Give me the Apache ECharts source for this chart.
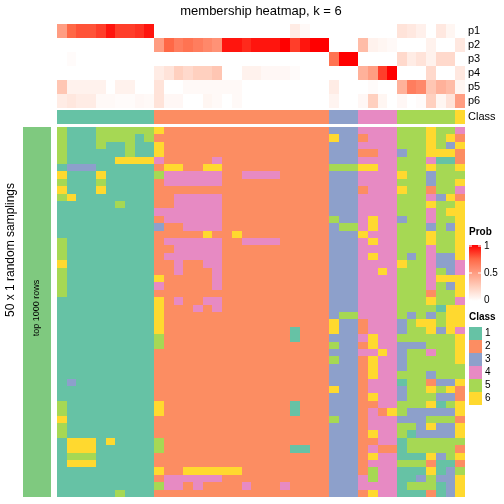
<!DOCTYPE html>
<html><head><meta charset="utf-8">
<script src="https://cdn.jsdelivr.net/npm/echarts@6/dist/echarts.min.js"></script>
<style>html,body{margin:0;padding:0;background:#fff}#c{width:504px;height:504px}</style>
</head><body><div id="c"></div>
<script>
// ---- data ----
const probLabels = ['p1','p2','p3','p4','p5','p6'];
const p1 = [0.5,0.75,0.8,0.8,0.85,0.95,0.85,0.85,0.88,0.95, 0,0,0,0,0,0,0,0,0,0, 0,0,0,0,0.1,0.03,0,0, 0,0,0, 0,0,0,0, 0.15,0.12,0.08,0,0.12,0.05, 0];
const p2 = [0,0,0,0,0,0,0,0,0,0, 0.5,0.75,0.65,0.7,0.65,0.6,0.55,0.95,0.95,0.9,0.95, 0.95,0.95,1,0.85,0.95,1,1, 0,0,0, 0.35,0.07,0.05,0.03, 0,0,0,0.07,0,0, 0.12];
const p3 = [0,0.02,0,0,0,0,0,0,0,0, 0,0,0,0,0,0,0,0,0,0,0, 0,0,0,0,0,0,0, 0.7,1,1, 0,0,0,0, 0.2,0.1,0.15,0.07,0.2,0.2, 0];
const p4 = [0,0,0,0,0,0,0,0,0,0, 0.1,0.15,0.25,0.2,0.25,0.25,0.3,0,0,0.07,0.07, 0.04,0.04,0.04,0.02,0,0,0, 0,0,0, 0.4,0.5,0.85,1, 0,0,0,0.2,0,0, 0.12];
const p5 = [0.3,0.07,0.07,0.07,0.07,0,0.07,0.07,0,0, 0.15,0,0,0.03,0.03,0.03,0.03,0.03,0.03,0,0, 0,0,0,0,0,0,0, 0.1,0,0, 0,0.02,0,0, 0.4,0.65,0.6,0.3,0.4,0.35, 0.05];
const p6 = [0.1,0.13,0.1,0.1,0.03,0.03,0.02,0.02,0.04,0.03, 0.15,0.04,0.04,0,0,0.05,0.03,0,0.03,0,0, 0,0,0,0,0,0,0, 0.06,0,0, 0.04,0.25,0.05,0, 0.04,0,0.02,0.25,0.05,0.15, 0.5];
const classRow = [1,1,1,1,1,1,1,1,1,1, 2,2,2,2,2,2,2,2,2,2,2,2,2,2,2,2,2,2, 3,3,3, 4,4,4,4, 5,5,5,5,5,5, 6];
const samplingRows = [
"5111555555 622222222222222222 333 4444 555655 4",
"5111555515 222222222222222222 633 2444 555656 2",
"5111511511 622222222222222222 333 4444 555653 6",
"5111111511 622222222222222222 333 2244 355666 2",
"5111116666 422222422222222222 333 4444 555411 2",
"1333111111 266226622222222222 555 6644 555655 6",
"6111611111 544444422444422222 333 4444 655355 5",
"5111511111 244444422222222222 333 4444 555355 6",
"6111611111 222222222222222222 333 2444 655255 4",
"5611111111 224444422222222222 333 4444 555436 2",
"1111115111 224444422222222222 333 4444 555655 6",
"1111111111 444444422222222222 333 4444 555456 6",
"1111111111 244444422222222222 533 4644 355455 6",
"1111111111 322444422222222222 355 4644 555353 6",
"1111111111 222226226222222222 333 6444 555655 6",
"5111111111 244444422444422222 333 4644 555655 6",
"5111111111 224444422222222222 333 4444 555455 6",
"5111111111 244444422222222222 333 4644 535433 6",
"6111111111 224224422222222222 333 4444 655433 4",
"5111111111 224222422222222222 333 4464 555453 4",
"5111111111 622222422222222222 333 4444 555466 6",
"5111111111 422222422222222222 333 4444 555453 6",
"5111111111 222222222222222222 333 4444 555255 6",
"1111111111 624224422222222222 333 4444 555655 4",
"1111111111 622242422222222222 333 4444 555516 6",
"1111111111 622222222222222222 355 4444 535356 6",
"1111111111 622222222222222222 633 2444 356656 6",
"1111111111 622222222222221222 633 2444 355636 4",
"1111111111 522222222222221222 333 4644 555555 6",
"1111111111 522222222222222222 533 2644 333555 6",
"1111111111 222222222222222222 333 4464 355455 6",
"1111111111 222222222222222222 533 2644 355555 6",
"1111111111 222222222222222222 333 2644 355555 5",
"1111111111 222222222222222222 333 2644 555355 5",
"1311111111 222222222222222222 333 2444 155233 6",
"1111111111 222222222222222222 633 2444 355656 2",
"1111111111 222222222222222222 333 2644 355533 2",
"5111111111 622222222222221222 333 2244 555615 6",
"5111111111 622222222222221222 333 2426 533333 6",
"6111111111 222222222222222222 533 2444 333555 2",
"5111111111 222222222222222222 333 2444 553633 6",
"5111111111 222222222222222222 333 2644 513333 6",
"1666161111 522222222222222222 333 2244 155555 5",
"1666111111 522222222222221122 333 2422 155555 2",
"1555111111 222222222222222222 333 2644 111635 6",
"1666111111 222222222222222222 333 2444 555211 2",
"1111111111 622666666222222222 333 2544 111613 5",
"1111111111 244444422222222222 333 4544 113533 6",
"1111111111 544242222422242222 333 4444 155513 6",
"1111115111 222222222222222222 333 2644 111213 6"
];
const classLabels = ['1','2','3','4','5','6'];
const classColors = ['#66C2A5','#FC8D62','#8DA0CB','#E78AC3','#A6D854','#FFD92F'];
const stripColor = '#7FC97F';
const probTicks = ['1','0.5','0'];

// ---- build ----
const nCol = classRow.length;
const cols = Array.from({length:nCol},(_,i)=>i);
const probs = [p1,p2,p3,p4,p5,p6];
const topData = [];
probs.forEach((arr,r)=>arr.forEach((v,c)=>topData.push([c,r,v])));
const classData = classRow.map((v,c)=>[c,0,v]);
const mainData = [];
samplingRows.forEach((s,r)=>{ s.replace(/ /g,'').split('').forEach((ch,c)=>mainData.push([c,r,+ch])); });
const rowIdx = samplingRows.map((_,i)=>i);

const FONT = 'Liberation Sans, Arial, Helvetica, sans-serif';
const hiddenX = (gi)=>({type:'category',gridIndex:gi,data:cols,show:false});
const chart = echarts.init(document.getElementById('c'),null,{renderer:'canvas'});

const pieces = classColors.map((c,i)=>({value:i+1,color:c}));
pieces.push({value:7,color:stripColor});

function cellRender(params, api){
  const p = api.coord([api.value(0), api.value(1)]);
  const s = api.size([1,1]);
  const x0 = Math.round(p[0]-s[0]/2), x1 = Math.round(p[0]+s[0]/2);
  const y0 = Math.round(p[1]-s[1]/2), y1 = Math.round(p[1]+s[1]/2);
  return {type:'rect',shape:{x:x0,y:y0,width:x1-x0,height:y1-y0},style:{fill:api.visual('color')}};
}
const cellSeries = (xi,yi,data)=>({type:'custom',xAxisIndex:xi,yAxisIndex:yi,data:data,renderItem:cellRender,
  encode:{x:0,y:1},silent:true,emphasis:{disabled:true},progressive:0});

const legendG = [];
legendG.push({type:'text',left:469,top:227,style:{text:'Prob',font:'bold 10px '+FONT,fill:'#000'}});
legendG.push({type:'rect',shape:{x:469,y:245,width:12,height:56},style:{fill:new echarts.graphic.LinearGradient(0,0,0,1,[
  {offset:0,color:'#FF0000'},{offset:0.25,color:'#FF6846'},{offset:0.5,color:'#FF9D82'},{offset:0.75,color:'#FFD0BF'},{offset:1,color:'#FFFFFF'}])}});
[[246,probTicks[0]],[273,probTicks[1]],[300,probTicks[2]]].forEach(([y,t])=>{
  legendG.push({type:'line',shape:{x1:469,y1:y,x2:472,y2:y},style:{stroke:'#fff',lineWidth:1}});
  legendG.push({type:'line',shape:{x1:478,y1:y,x2:481,y2:y},style:{stroke:'#fff',lineWidth:1}});
  legendG.push({type:'text',x:484,y:y,style:{text:t,font:'10px '+FONT,fill:'#000',textVerticalAlign:'middle'}});
});
legendG.push({type:'text',left:469,top:312,style:{text:'Class',font:'bold 10px '+FONT,fill:'#000'}});
classColors.forEach((c,i)=>{
  const y = 327 + i*13;
  legendG.push({type:'rect',shape:{x:469,y:y,width:13,height:13},style:{fill:c}});
  legendG.push({type:'text',x:485,y:y+6.5,style:{text:classLabels[i],font:'10px '+FONT,fill:'#000',textVerticalAlign:'middle'}});
});

const graphics = [
  {type:'text',x:261,y:11,style:{text:'membership heatmap, k = 6',font:'13px '+FONT,fill:'#000',textAlign:'center',textVerticalAlign:'middle'}},
  {type:'text',x:11,y:250,rotation:Math.PI/2,style:{text:'50 x 1 random samplings',font:'12px '+FONT,fill:'#000',textAlign:'center',textVerticalAlign:'middle'}},
  {type:'text',x:37,y:308,rotation:Math.PI/2,style:{text:'top 1000 rows',font:'9px '+FONT,fill:'#000',textAlign:'center',textVerticalAlign:'middle'}}
].concat(legendG).map(g=>Object.assign({z:100},g));

chart.setOption({
  animation:false,
  backgroundColor:'#fff',
  grid:[
    {left:57,top:24,width:408,height:84},
    {left:57,top:110,width:408,height:14},
    {left:57,top:127,width:408,height:370},
    {left:23,top:127,width:28,height:370}
  ],
  xAxis:[hiddenX(0),hiddenX(1),hiddenX(2),{type:'category',gridIndex:3,data:['s'],show:false}],
  yAxis:[
    {type:'category',gridIndex:0,data:probLabels,inverse:true,position:'right',axisLine:{show:false},axisTick:{show:false},
     axisLabel:{interval:0,margin:3,fontSize:11,color:'#000',fontFamily:FONT}},
    {type:'category',gridIndex:1,data:['Class'],position:'right',axisLine:{show:false},axisTick:{show:false},
     axisLabel:{interval:0,margin:3,fontSize:11,color:'#000',fontFamily:FONT}},
    {type:'category',gridIndex:2,data:rowIdx,inverse:true,show:false},
    {type:'category',gridIndex:3,data:['s'],show:false}
  ],
  visualMap:[
    {type:'continuous',min:0,max:1,dimension:2,seriesIndex:0,show:false,
     inRange:{color:['#FFFFFF','#FFD0BF','#FF9D82','#FF6846','#FF0000']}},
    {type:'piecewise',dimension:2,seriesIndex:[1,2,3],show:false,pieces:pieces}
  ],
  series:[
    cellSeries(0,0,topData),
    cellSeries(1,1,classData),
    cellSeries(2,2,mainData),
    cellSeries(3,3,[[0,0,7]])
  ],
  graphic:graphics
});
</script></body></html>
